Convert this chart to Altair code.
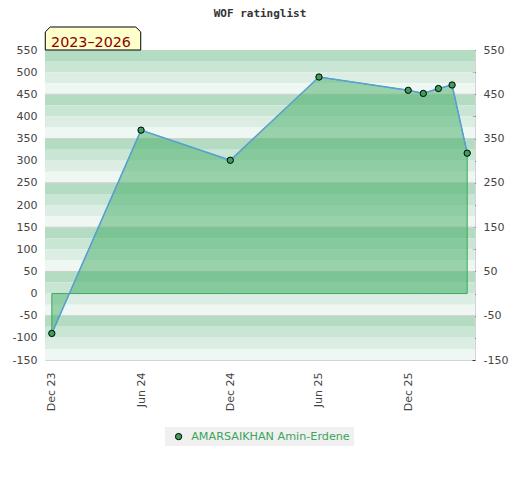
import altair as alt
import pandas as pd

# ---- data ----
title_text = "WOF ratinglist"
period_label = "2023–2026"
player = "AMARSAIKHAN Amin-Erdene"
dates = ["2023-12-01T00:00:00", "2024-06-01T00:00:00", "2024-12-01T00:00:00",
         "2025-06-01T00:00:00", "2025-12-01T00:00:00", "2026-01-01T00:00:00",
         "2026-02-01T00:00:00", "2026-03-01T00:00:00", "2026-04-01T00:00:00"]
ratings = [-90, 369, 301, 489, 459, 452, 463, 471, 317]
y_ticks = list(range(-150, 551, 50))
grid_values = [450, 350, 250, 150, 50, -50]
x_tick_dates = [(2023, 12), (2024, 6), (2024, 12), (2025, 6), (2025, 12)]

df = pd.DataFrame({"date": dates, "rating": ratings, "player": [player] * len(dates)})

# background stripes: 4 shades per 100-point band
stripe_colors = ["#b3dcc3", "#c9e6d5", "#dceee3", "#eef7f1"]
stripe_lo = list(range(525, -151, -25))
stripes = pd.DataFrame({
    "lo": stripe_lo,
    "hi": [v + 25 for v in stripe_lo],
    "col": [stripe_colors[i % 4] for i in range(len(stripe_lo))],
})
grid_df = pd.DataFrame({"v": grid_values})

x_scale = alt.Scale(domain=[alt.DateTime(year=2023, month=11, date=17),
                            alt.DateTime(year=2026, month=4, date=17)])
y_scale = alt.Scale(domain=[-150, 550], nice=False, zero=False)

x_axis = alt.Axis(values=[alt.DateTime(year=y, month=m, date=1) for y, m in x_tick_dates],
                  format="%b %y", labelAngle=-90, ticks=False, tickSize=0, domain=False,
                  grid=False, labelPadding=12, title=None)

left_axis = alt.Axis(orient="left", values=y_ticks, ticks=False, tickSize=0, domain=False,
                     grid=False, labelPadding=8, title=None, labelExpr="'' + datum.value")
right_axis = alt.Axis(orient="right", values=y_ticks, ticks=True, tickSize=3, tickColor="#333333",
                      tickWidth=1, offset=-3, domain=False, grid=False, labelPadding=8, title=None,
                      labelExpr="(datum.value % 100 == 50 || datum.value % 100 == -50) ? '' + datum.value : ''")

stripe_layer = alt.Chart(stripes).mark_rect().encode(
    y=alt.Y("lo:Q", scale=y_scale, axis=left_axis),
    y2="hi:Q",
    x=alt.value(0), x2=alt.value(430),
    color=alt.Color("col:N", scale=None),
)

grid_layer = alt.Chart(grid_df).mark_rule(color="#d0d0d0", strokeWidth=1).encode(
    y=alt.Y("v:Q", scale=y_scale, axis=right_axis),
)

area_layer = alt.Chart(df).mark_area(fill="#48ae6a", fillOpacity=0.52, stroke="#3aaa58",
                                     strokeWidth=1).encode(
    x=alt.X("date:T", scale=x_scale, axis=x_axis),
    y=alt.Y("rating:Q", scale=y_scale, axis=None),
    y2=alt.datum(0),
)

line_layer = alt.Chart(df).mark_line(color="#5a9fd8", strokeWidth=1.5).encode(
    x=alt.X("date:T", scale=x_scale, axis=x_axis),
    y=alt.Y("rating:Q", scale=y_scale, axis=None),
)

point_layer = alt.Chart(df).mark_point(filled=True, stroke="black", strokeWidth=1, size=40,
                                       opacity=1).encode(
    x=alt.X("date:T", scale=x_scale, axis=x_axis),
    y=alt.Y("rating:Q", scale=y_scale, axis=None),
    color=alt.Color("player:N", scale=alt.Scale(range=["#3a9f5a"]),
                    legend=alt.Legend(orient="none", legendX=120, legendY=377, title=None,
                                      fillColor="#f0f0f0", padding=4, symbolOffset=4,
                                      labelColor="#3aa55b", labelFont="DejaVu Sans",
                                      labelFontSize=11.2, labelOffset=7, symbolSize=40,
                                      symbolType="circle", symbolStrokeColor="black",
                                      symbolStrokeWidth=1, symbolFillColor="#3a9f5a")),
)

label_df = pd.DataFrame({"t": [period_label]})
badge_path = "M -4.15 1 L -4.15 -0.57 L -3.72 -1 L 3.72 -1 L 4.15 -0.57 L 4.15 1 Z"
badge_box = alt.Chart(label_df).mark_point(shape=badge_path, size=529, filled=True,
                                           fill="#ffffcc", stroke="black", strokeWidth=1,
                                           opacity=1).encode(
    x=alt.value(48), y=alt.value(-11.5))
badge_text = alt.Chart(label_df).mark_text(font="DejaVu Sans", fontSize=14.3, color="#8b0000",
                                           align="center", baseline="alphabetic").encode(
    x=alt.value(46), y=alt.value(-3.5), text="t:N")

title_df = pd.DataFrame({"t": [title_text]})
title_layer = alt.Chart(title_df).mark_text(font="DejaVu Sans Mono", fontWeight="bold", fontSize=11,
                                            color="#333333", align="center",
                                            baseline="alphabetic").encode(
    x=alt.value(215), y=alt.value(-33), text="t:N")

chart = alt.layer(
    stripe_layer, grid_layer, area_layer, line_layer, point_layer,
    badge_box, badge_text, title_layer
).resolve_axis(y="independent").properties(
    width=430, height=310,
    autosize=alt.AutoSizeParams(type="none"),
    padding={"left": 37, "top": 42, "right": 37, "bottom": 112},
).configure_view(stroke="#d4d4d4", strokeWidth=1).configure_axis(
    labelFont="DejaVu Sans", labelFontSize=11, labelColor="#444444"
)

chart.save("out.html", embed_options={"renderer": "svg", "actions": False})
